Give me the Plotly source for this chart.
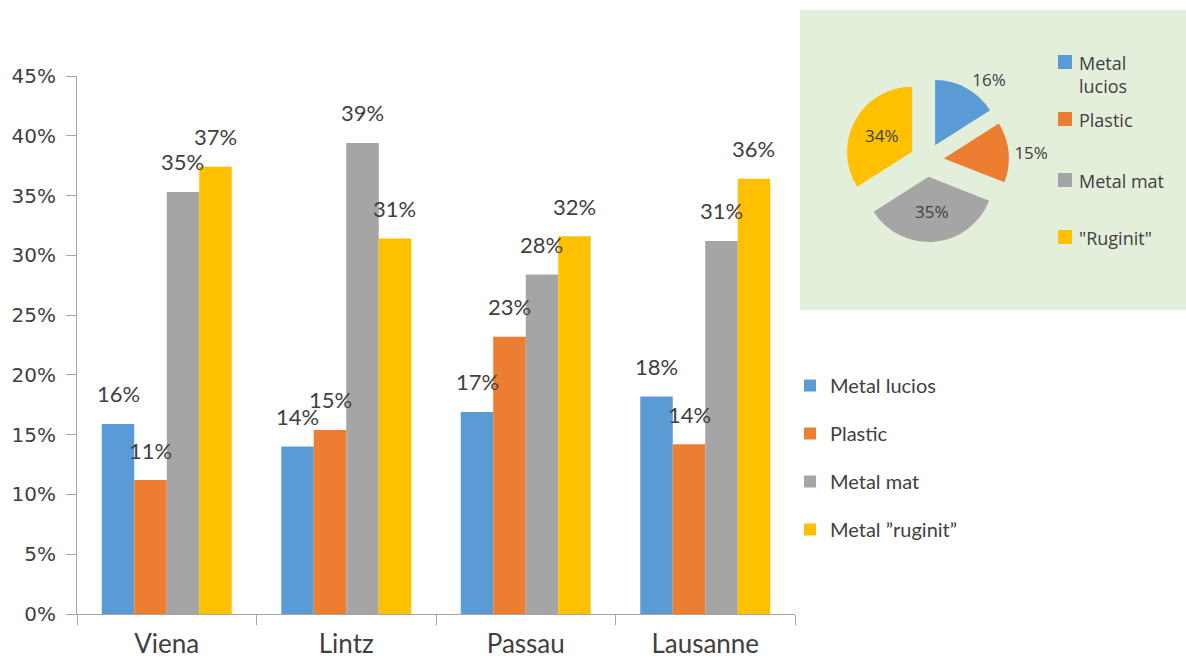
import plotly.graph_objects as go

# ---- data ----
cities = ["Viena", "Lintz", "Passau", "Lausanne"]
series_names = ["Metal lucios", "Plastic", "Metal mat", "Metal ”ruginit”"]
metal_lucios = [15.9, 14.0, 16.9, 18.2]
plastic = [11.2, 15.4, 23.2, 14.2]
metal_mat = [35.3, 39.4, 28.4, 31.2]
metal_ruginit = [37.4, 31.4, 31.6, 36.4]
y_ticks = [0, 5, 10, 15, 20, 25, 30, 35, 40, 45]
y_tick_labels = [f"{v}%" for v in y_ticks]

pie_labels = ["Metal<br>lucios", "Plastic", "Metal mat", "\"Ruginit\""]
pie_values = [16, 15, 35, 34]

colors = ["#5B9BD5", "#ED7D31", "#A5A5A5", "#FFC000"]

W, H = 1186, 659
TEXT = "#404040"
AXIS = "#A6A6A6"
FONT = "Lato"


def px_x(p):
    return p / W


def px_y(p):
    return 1 - p / H


series = [metal_lucios, plastic, metal_mat, metal_ruginit]
bargap = 0.276

fig = go.Figure()

for k, (name, vals) in enumerate(zip(series_names, series)):
    fig.add_trace(go.Bar(
        x=cities, y=vals, name=name,
        marker=dict(color=colors[k], line=dict(width=0)),
        legendgroup=name,
    ))

# value labels above each bar
bar_w = (1 - bargap) / len(series)
annotations = []
for k, vals in enumerate(series):
    for i, v in enumerate(vals):
        annotations.append(dict(
            x=i + (k - 1.5) * bar_w, y=v, xref="x", yref="y",
            text=f"{v:.0f}%", showarrow=False,
            yshift=30, yanchor="middle", xanchor="center",
            font=dict(family=FONT, size=22, color=TEXT),
        ))

# pie inset
fig.add_trace(go.Pie(
    labels=pie_labels, values=pie_values,
    marker=dict(colors=colors, line=dict(width=0)),
    sort=False, direction="clockwise", rotation=0,
    pull=0.26,
    textinfo="percent", texttemplate="%{percent:.0%}",
    textposition=["outside", "outside", "inside", "inside"],
    textfont=dict(family="Open Sans", size=17, color=TEXT),
    insidetextfont=dict(family="Open Sans", size=17, color=TEXT),
    outsidetextfont=dict(family="Open Sans", size=17, color=TEXT),
    domain=dict(x=[px_x(845), px_x(1009)], y=[px_y(242), px_y(78)]),
    showlegend=False, hoverinfo="label+percent",
))

shapes = [dict(
    type="rect", xref="paper", yref="paper", layer="below",
    x0=px_x(800), x1=1.0, y0=px_y(310), y1=px_y(10),
    fillcolor="#E3EFDB", line=dict(width=0),
)]

# legend of the pie inset
pie_rows = [62, 119, 180, 237]
for lab, col, row in zip(pie_labels, colors, pie_rows):
    shapes.append(dict(
        type="rect", xref="paper", yref="paper",
        x0=px_x(1058), x1=px_x(1072), y0=px_y(row + 7), y1=px_y(row - 7),
        fillcolor=col, line=dict(width=0),
    ))
    annotations.append(dict(
        x=px_x(1077), y=px_y(row - 13), xref="paper", yref="paper",
        text=lab, showarrow=False, xanchor="left", yanchor="top",
        align="left", font=dict(family="Open Sans", size=18, color=TEXT),
    ))

fig.update_layout(
    width=W, height=H,
    template="none",
    paper_bgcolor="white", plot_bgcolor="white",
    margin=dict(l=0, r=0, t=0, b=0),
    barmode="group", bargap=bargap, bargroupgap=0,
    xaxis=dict(
        domain=[px_x(77), px_x(795)],
        type="category", categoryorder="array", categoryarray=cities,
        range=[-0.5, len(cities) - 0.5],
        showline=True, linecolor=AXIS, linewidth=1,
        ticks="outside", tickson="boundaries", ticklen=10, tickcolor=AXIS,
        ticklabelstandoff=7,
        showgrid=False, zeroline=False, automargin=False,
        tickfont=dict(family=FONT, size=26, color=TEXT),
        fixedrange=True,
    ),
    yaxis=dict(
        domain=[px_y(614), px_y(76)],
        range=[0, 45], tickmode="array", tickvals=y_ticks, ticktext=y_tick_labels,
        showline=True, linecolor=AXIS, linewidth=1,
        ticks="outside", ticklen=10, tickcolor=AXIS,
        ticklabelstandoff=6,
        showgrid=False, zeroline=False, automargin=False,
        tickfont=dict(family="DejaVu Sans", size=20, color=TEXT),
        fixedrange=True,
    ),
    legend=dict(
        x=px_x(790), y=px_y(366), xanchor="left", yanchor="top",
        font=dict(family=FONT, size=20, color=TEXT),
        tracegroupgap=19, bgcolor="rgba(0,0,0,0)",
        traceorder="grouped",
    ),
    shapes=shapes,
    annotations=annotations,
)

fig.write_html("out.html")
